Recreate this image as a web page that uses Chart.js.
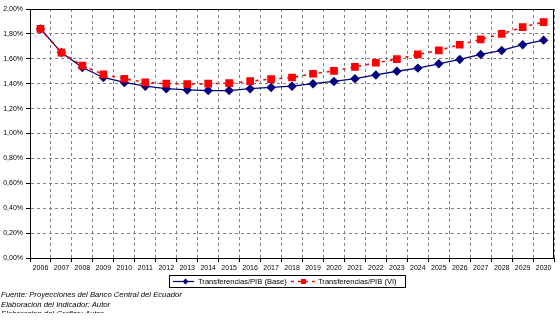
<!DOCTYPE html>
<html>
<head>
<meta charset="utf-8">
<script src="https://cdn.jsdelivr.net/npm/chart.js@4"></script>
<style>
  body { margin: 0; background: #fff; }
  #wrap { position: relative; width: 560px; height: 322px; overflow: hidden; font-family: "Liberation Sans", Arial, sans-serif; }
  #myChart { position: absolute; left: 0; top: 0; }
  #legend { position: absolute; left: 169px; top: 275px; width: 235px; height: 11px; border: 1px solid #000; font-size: 7.6px; line-height: 11px; }
  #legend .item { position: absolute; top: 0; white-space: nowrap; }
  #legend svg { position: absolute; top: 0; }
  #notes { position: absolute; left: 1px; top: 290px; height: 23px; overflow: hidden; font-size: 7.7px; line-height: 9.5px; font-style: italic; white-space: nowrap; }
</style>
</head>
<body>
<div id="wrap">
  <canvas id="myChart" width="560" height="322"></canvas>
  <div id="legend">
    <svg style="left:3px" width="22" height="11"><line x1="0" y1="5.5" x2="21" y2="5.5" stroke="#000080" stroke-width="1.2"/><polygon points="12.5,2.5 15.5,5.5 12.5,8.5 9.5,5.5" fill="#000080"/></svg>
    <span class="item" style="left:28px">Transferencias/PIB (Base)</span>
    <svg style="left:121px" width="26" height="11"><line x1="0" y1="5.5" x2="26" y2="5.5" stroke="#ff0000" stroke-width="1.5" stroke-dasharray="3,4"/><rect x="10" y="3" width="5" height="5" fill="#ff0000"/></svg>
    <span class="item" style="left:148px">Transferencias/PIB (VI)</span>
  </div>
  <div id="notes">
    Fuente: Proyecciones del Banco Central del Ecuador<br>
    Elaboracion del Indicador: Autor<br>
    Elaboracion del Grafico: Autor
  </div>
</div>
<script>
const ctx = document.getElementById('myChart').getContext("2d");

// years on the x axis
const years = ['2006','2007','2008','2009','2010','2011','2012','2013','2014','2015','2016','2017','2018',
    '2019','2020','2021','2022','2023','2024','2025','2026','2027','2028','2029','2030'];

// Transferencias/PIB in %
const baseValues = [1.84, 1.65, 1.53, 1.45, 1.41, 1.38, 1.36, 1.35, 1.345, 1.345, 1.36, 1.37, 1.38,
    1.40, 1.418, 1.44, 1.47, 1.50, 1.525, 1.56, 1.595, 1.635, 1.667, 1.713, 1.75];
const viValues = [1.84, 1.65, 1.545, 1.475, 1.44, 1.41, 1.40, 1.396, 1.40, 1.404, 1.42, 1.437, 1.45,
    1.48, 1.503, 1.535, 1.568, 1.597, 1.635, 1.667, 1.713, 1.756, 1.80, 1.855, 1.895];

const yTickLabels = ['0,00%','0,20%','0,40%','0,60%','0,80%','1,00%','1,20%','1,40%','1,60%','1,80%','2,00%'];

Chart.defaults.font.family = '"Liberation Sans", Arial, sans-serif';
Chart.defaults.font.size = 7;
Chart.defaults.color = '#000';

// black frame round the plot area
const frame = {
    id: 'frame',
    beforeDatasetsDraw(chart) {
        const a = chart.chartArea;
        const c = chart.ctx;
        c.save();
        c.strokeStyle = '#000';
        c.lineWidth = 1;
        c.strokeRect(Math.round(a.left) + 0.5, Math.round(a.top) + 0.5, Math.round(a.right - a.left) - 1, Math.round(a.bottom - a.top));
        c.restore();
    }
};

const data = {
    labels: years,
    datasets: [
        {
            label: 'Transferencias/PIB (Base)',
            data: baseValues,
            borderColor: '#000080',
            backgroundColor: '#000080',
            borderWidth: 1.3,
            pointStyle: 'rectRot',
            pointRadius: 3.8,
            tension: 0,
            order: 2,
        },
        {
            label: 'Transferencias/PIB (VI)',
            data: viValues,
            borderColor: '#ff0000',
            backgroundColor: '#ff0000',
            borderWidth: 1.6,
            borderDash: [3, 5],
            pointStyle: 'rect',
            pointRadius: 4.3,
            tension: 0,
            order: 1,
        },
    ],
};

const config = {
    type: 'line',
    data: data,
    plugins: [frame],
    options: {
        responsive: false,
        animation: false,
        layout: { padding: { top: 9, right: 4, left: 0, bottom: 0 } },
        plugins: {
            legend: { display: false },
            tooltip: { enabled: false },
        },
        elements: { point: { borderWidth: 0, hoverRadius: 4 } },
        scales: {
            x: {
                offset: true,
                grid: {
                    offset: true,
                    color: '#808080',
                    tickColor: '#000',
                    tickLength: 4,
                },
                border: { color: '#000', dash: [3, 3] },
                ticks: { maxRotation: 0, autoSkip: false, padding: 2 },
                afterFit: (scale) => { scale.height = 64; },
            },
            y: {
                min: 0,
                max: 2,
                grid: {
                    color: '#808080',
                    tickColor: '#000',
                    tickLength: 4,
                },
                border: { color: '#000', dash: [3, 3] },
                ticks: {
                    stepSize: 0.2,
                    padding: 3,
                    callback: (v, i) => yTickLabels[i],
                },
                afterFit: (scale) => { scale.width = 30; },
            },
        },
    },
};

const myChart = new Chart(ctx, config);
</script>
</body>
</html>
